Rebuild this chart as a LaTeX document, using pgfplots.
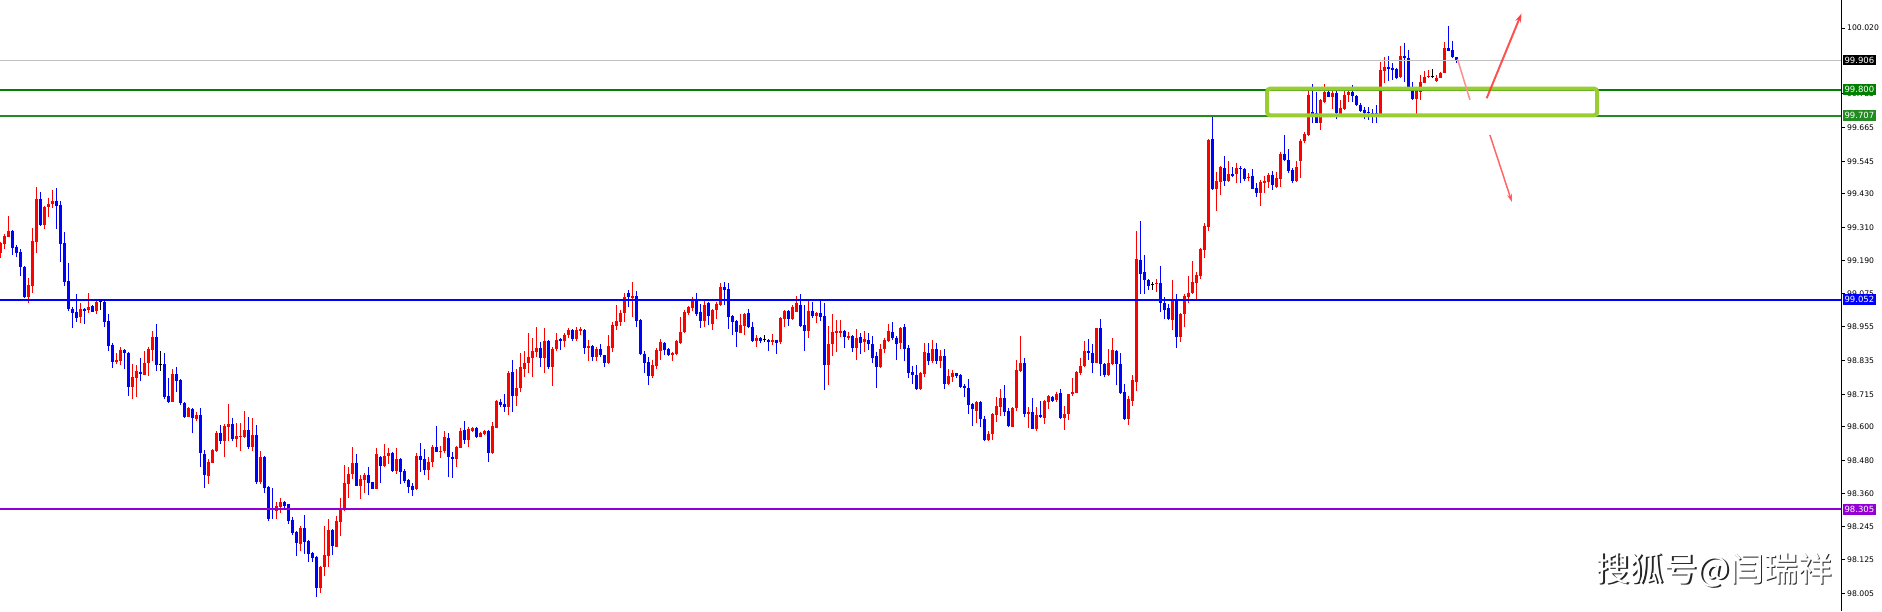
\documentclass[border=0pt]{standalone}
\usepackage{fontspec}
\usepackage{pgfplots}
\usepackage{pgfplotstable}
\pgfplotsset{compat=1.18}
\usetikzlibrary{arrows.meta}
\newfontfamily\dejavu{DejaVu Sans}
\newfontfamily\cjk{Noto Sans CJK SC}
\definecolor{upc}{RGB}{255,0,0}
\definecolor{dnc}{RGB}{0,0,255}
\definecolor{lvgreen}{RGB}{0,128,0}
\definecolor{lvgreenb}{RGB}{34,139,34}
\definecolor{lvpurple}{RGB}{148,0,211}
\definecolor{boxgreen}{RGB}{154,205,50}
\definecolor{bidgray}{RGB}{192,192,192}

% i open high low close
\pgfplotstableread{
i o h l c
0 99.220 99.259 99.200 99.253
1 99.251 99.286 99.234 99.279
2 99.277 99.350 99.274 99.297
3 99.298 99.300 99.211 99.237
4 99.240 99.247 99.203 99.220
5 99.222 99.233 99.138 99.168
6 99.170 99.172 99.059 99.063
7 99.063 99.129 99.039 99.105
8 99.102 99.308 99.077 99.261
9 99.259 99.454 99.220 99.410
10 99.410 99.436 99.315 99.318
11 99.319 99.386 99.304 99.382
12 99.381 99.416 99.348 99.393
13 99.393 99.443 99.378 99.404
14 99.404 99.450 99.305 99.387
15 99.390 99.404 99.188 99.252
16 99.254 99.293 99.102 99.116
17 99.119 99.183 99.013 99.019
18 99.019 99.027 98.952 99.006
19 99.008 99.072 98.974 98.988
20 98.992 99.039 98.970 99.019
21 99.019 99.022 98.967 99.013
22 99.017 99.076 99.004 99.026
23 99.030 99.032 99.007 99.009
24 99.011 99.046 99.002 99.044
25 99.045 99.049 99.017 99.045
26 99.044 99.049 98.954 98.974
27 98.976 99.002 98.870 98.888
28 98.891 98.899 98.810 98.831
29 98.831 98.862 98.822 98.837
30 98.835 98.882 98.819 98.873
31 98.873 98.876 98.806 98.861
32 98.862 98.865 98.709 98.742
33 98.742 98.824 98.699 98.776
34 98.773 98.819 98.707 98.799
35 98.795 98.844 98.764 98.789
36 98.784 98.869 98.783 98.828
37 98.826 98.885 98.781 98.876
38 98.874 98.941 98.835 98.919
39 98.919 98.967 98.799 98.821
40 98.822 98.869 98.799 98.822
41 98.823 98.862 98.697 98.707
42 98.709 98.774 98.685 98.689
43 98.689 98.805 98.688 98.787
44 98.787 98.812 98.722 98.764
45 98.766 98.769 98.677 98.685
46 98.685 98.688 98.632 98.635
47 98.635 98.670 98.634 98.667
48 98.663 98.667 98.578 98.632
49 98.627 98.652 98.620 98.641
50 98.641 98.665 98.457 98.505
51 98.502 98.517 98.382 98.428
52 98.425 98.484 98.397 98.474
53 98.471 98.520 98.469 98.517
54 98.513 98.584 98.510 98.578
55 98.577 98.606 98.538 98.550
56 98.550 98.608 98.493 98.602
57 98.600 98.681 98.550 98.609
58 98.609 98.631 98.550 98.555
59 98.557 98.614 98.528 98.567
60 98.564 98.612 98.514 98.568
61 98.563 98.656 98.558 98.588
62 98.588 98.635 98.519 98.526
63 98.527 98.631 98.514 98.570
64 98.570 98.606 98.396 98.403
65 98.403 98.513 98.396 98.493
66 98.493 98.495 98.362 98.382
67 98.386 98.388 98.264 98.270
68 98.307 98.382 98.270 98.303
69 98.300 98.333 98.270 98.317
70 98.314 98.345 98.293 98.333
71 98.333 98.335 98.305 98.317
72 98.323 98.325 98.253 98.264
73 98.267 98.279 98.214 98.222
74 98.225 98.228 98.139 98.186
75 98.182 98.246 98.157 98.238
76 98.238 98.285 98.146 98.190
77 98.194 98.197 98.119 98.146
78 98.149 98.153 98.119 98.132
79 98.137 98.139 97.993 98.026
80 98.026 98.103 98.006 98.100
81 98.099 98.246 98.068 98.143
82 98.139 98.270 98.101 98.232
83 98.232 98.235 98.143 98.175
84 98.172 98.281 98.170 98.264
85 98.261 98.347 98.210 98.309
86 98.303 98.463 98.300 98.398
87 98.396 98.455 98.347 98.431
88 98.431 98.528 98.413 98.471
89 98.469 98.502 98.388 98.390
90 98.390 98.428 98.342 98.412
91 98.410 98.434 98.362 98.428
92 98.428 98.457 98.356 98.400
93 98.402 98.404 98.376 98.378
94 98.378 98.525 98.376 98.502
95 98.493 98.495 98.398 98.461
96 98.461 98.537 98.457 98.496
97 98.495 98.525 98.466 98.505
98 98.507 98.510 98.439 98.443
99 98.443 98.525 98.431 98.485
100 98.485 98.487 98.396 98.439
101 98.442 98.448 98.398 98.407
102 98.410 98.412 98.362 98.386
103 98.388 98.398 98.353 98.374
104 98.377 98.507 98.374 98.495
105 98.495 98.541 98.439 98.481
106 98.485 98.519 98.428 98.445
107 98.445 98.493 98.410 98.473
108 98.473 98.533 98.457 98.528
109 98.528 98.602 98.508 98.511
110 98.511 98.531 98.488 98.513
111 98.513 98.584 98.505 98.564
112 98.560 98.576 98.419 98.493
113 98.493 98.509 98.418 98.485
114 98.485 98.531 98.457 98.528
115 98.525 98.594 98.523 98.584
116 98.588 98.620 98.538 98.552
117 98.552 98.600 98.528 98.590
118 98.585 98.600 98.582 98.596
119 98.596 98.599 98.559 98.562
120 98.564 98.582 98.562 98.578
121 98.574 98.588 98.569 98.584
122 98.584 98.588 98.475 98.507
123 98.507 98.615 98.502 98.602
124 98.596 98.695 98.595 98.691
125 98.688 98.699 98.671 98.676
126 98.681 98.715 98.651 98.671
127 98.671 98.798 98.641 98.790
128 98.793 98.837 98.653 98.710
129 98.710 98.805 98.674 98.739
130 98.736 98.863 98.722 98.811
131 98.805 98.869 98.778 98.826
132 98.826 98.935 98.790 98.849
133 98.846 98.915 98.778 98.869
134 98.867 98.954 98.849 98.881
135 98.881 98.902 98.811 98.846
136 98.846 98.950 98.792 98.906
137 98.906 98.909 98.804 98.813
138 98.813 98.885 98.746 98.876
139 98.875 98.932 98.870 98.909
140 98.911 98.915 98.873 98.904
141 98.906 98.932 98.885 98.926
142 98.926 98.950 98.915 98.944
143 98.944 98.947 98.906 98.911
144 98.911 98.956 98.906 98.944
145 98.942 98.954 98.926 98.948
146 98.944 98.947 98.859 98.881
147 98.881 98.909 98.835 98.887
148 98.887 98.890 98.835 98.849
149 98.849 98.885 98.834 98.875
150 98.875 98.893 98.849 98.854
151 98.854 98.856 98.811 98.828
152 98.828 98.926 98.823 98.887
153 98.881 98.974 98.865 98.962
154 98.960 99.033 98.944 98.976
155 98.974 99.015 98.958 99.006
156 99.004 99.075 98.974 99.061
157 99.077 99.087 99.027 99.061
158 99.057 99.115 98.992 99.065
159 99.065 99.084 98.956 98.977
160 98.980 98.982 98.855 98.859
161 98.859 98.869 98.792 98.828
162 98.830 98.847 98.748 98.780
163 98.780 98.837 98.774 98.819
164 98.816 98.879 98.804 98.873
165 98.870 98.911 98.837 98.901
166 98.899 98.902 98.855 98.873
167 98.876 98.879 98.852 98.855
168 98.856 98.867 98.834 98.861
169 98.859 98.909 98.855 98.905
170 98.899 98.992 98.893 98.938
171 98.936 99.015 98.932 99.008
172 99.004 99.030 98.998 99.027
173 99.024 99.063 99.013 99.054
174 99.054 99.077 98.995 99.001
175 99.009 99.036 98.950 98.977
176 98.977 99.051 98.954 99.033
177 99.039 99.045 98.962 98.995
178 98.966 99.018 98.944 99.015
179 99.015 99.045 98.982 99.037
180 99.033 99.112 99.030 99.096
181 99.096 99.115 99.033 99.087
182 99.090 99.110 98.948 98.992
183 98.994 98.997 98.926 98.974
184 98.977 98.980 98.885 98.936
185 98.935 99.001 98.932 98.962
186 98.960 99.004 98.926 99.001
187 99.004 99.019 98.950 98.954
188 98.956 98.974 98.902 98.906
189 98.906 98.926 98.885 98.915
190 98.915 98.918 98.897 98.906
191 98.909 98.926 98.902 98.909
192 98.909 98.911 98.870 98.902
193 98.902 98.929 98.891 98.909
194 98.909 98.910 98.859 98.899
195 98.902 98.989 98.894 98.986
196 98.983 99.015 98.956 99.012
197 99.012 99.015 98.958 98.983
198 98.982 99.033 98.980 99.025
199 99.009 99.065 99.007 99.040
200 99.033 99.072 98.956 98.960
201 98.962 99.033 98.870 98.942
202 98.942 99.049 98.917 99.012
203 99.012 99.044 98.986 98.995
204 98.995 99.009 98.970 99.004
205 99.004 99.051 98.977 98.992
206 98.994 99.041 98.730 98.821
207 98.821 98.958 98.749 98.894
208 98.894 99.001 98.852 98.937
209 98.935 98.980 98.867 98.941
210 98.935 98.980 98.918 98.941
211 98.941 98.944 98.881 98.918
212 98.916 98.936 98.909 98.923
213 98.923 98.926 98.867 98.881
214 98.879 98.948 98.837 98.917
215 98.919 98.935 98.858 98.899
216 98.900 98.940 98.867 98.912
217 98.909 98.932 98.873 98.894
218 98.894 98.923 98.826 98.846
219 98.852 98.867 98.739 98.813
220 98.811 98.893 98.808 98.876
221 98.876 98.917 98.861 98.909
222 98.906 98.966 98.900 98.942
223 98.937 98.973 98.909 98.915
224 98.917 98.923 98.837 98.894
225 98.897 98.954 98.876 98.952
226 98.954 98.964 98.834 98.876
227 98.879 98.891 98.774 98.792
228 98.795 98.816 98.752 98.784
229 98.784 98.819 98.730 98.733
230 98.733 98.796 98.730 98.790
231 98.787 98.899 98.778 98.866
232 98.861 98.897 98.819 98.834
233 98.834 98.909 98.828 98.876
234 98.876 98.899 98.823 98.834
235 98.834 98.873 98.810 98.852
236 98.852 98.876 98.733 98.752
237 98.752 98.804 98.748 98.780
238 98.778 98.802 98.760 98.792
239 98.790 98.792 98.772 98.779
240 98.783 98.786 98.739 98.742
241 98.746 98.751 98.704 98.736
242 98.739 98.770 98.645 98.677
243 98.681 98.683 98.603 98.662
244 98.657 98.691 98.614 98.688
245 98.688 98.690 98.598 98.627
246 98.627 98.638 98.549 98.552
247 98.552 98.585 98.549 98.574
248 98.574 98.650 98.552 98.645
249 98.641 98.707 98.617 98.673
250 98.671 98.733 98.638 98.703
251 98.703 98.748 98.638 98.653
252 98.656 98.665 98.598 98.602
253 98.600 98.669 98.599 98.665
254 98.665 98.837 98.657 98.802
255 98.799 98.923 98.796 98.828
256 98.828 98.843 98.635 98.645
257 98.645 98.669 98.596 98.652
258 98.652 98.703 98.592 98.593
259 98.593 98.669 98.585 98.640
260 98.641 98.691 98.630 98.633
261 98.630 98.695 98.609 98.691
262 98.689 98.713 98.662 98.709
263 98.707 98.709 98.689 98.691
264 98.695 98.725 98.689 98.715
265 98.719 98.733 98.628 98.630
266 98.630 98.673 98.588 98.645
267 98.645 98.717 98.624 98.715
268 98.715 98.772 98.709 98.723
269 98.721 98.798 98.719 98.796
270 98.792 98.843 98.784 98.816
271 98.816 98.905 98.814 98.869
272 98.869 98.911 98.837 98.861
273 98.863 98.893 98.790 98.828
274 98.828 98.951 98.826 98.950
275 98.950 98.982 98.780 98.822
276 98.823 98.826 98.776 98.784
277 98.784 98.876 98.780 98.826
278 98.822 98.915 98.819 98.873
279 98.870 98.873 98.748 98.823
280 98.823 98.861 98.716 98.721
281 98.723 98.752 98.624 98.626
282 98.626 98.709 98.606 98.698
283 98.692 98.784 98.674 98.766
284 98.760 99.297 98.728 99.197
285 99.194 99.332 99.071 99.144
286 99.150 99.211 99.071 99.122
287 99.122 99.125 99.087 99.102
288 99.108 99.116 99.087 99.108
289 99.107 99.126 99.079 99.113
290 99.113 99.172 99.009 99.041
291 99.041 99.061 98.982 99.015
292 99.022 99.037 98.980 98.983
293 98.980 99.122 98.944 99.051
294 99.051 99.072 98.881 98.920
295 98.920 99.004 98.902 99.001
296 99.001 99.072 98.956 99.065
297 99.063 99.137 99.041 99.077
298 99.075 99.190 99.071 99.116
299 99.113 99.152 99.054 99.140
300 99.137 99.237 99.125 99.233
301 99.229 99.324 99.200 99.315
302 99.310 99.624 99.298 99.621
303 99.624 99.704 99.443 99.445
304 99.445 99.508 99.369 99.475
305 99.472 99.528 99.425 99.524
306 99.522 99.564 99.457 99.476
307 99.476 99.546 99.472 99.499
308 99.500 99.524 99.490 99.494
309 99.499 99.540 99.469 99.520
310 99.522 99.528 99.467 99.517
311 99.518 99.520 99.476 99.481
312 99.487 99.502 99.475 99.490
313 99.493 99.517 99.445 99.448
314 99.451 99.467 99.419 99.433
315 99.433 99.479 99.386 99.472
316 99.469 99.493 99.431 99.476
317 99.472 99.505 99.449 99.496
318 99.496 99.511 99.443 99.461
319 99.452 99.507 99.449 99.485
320 99.482 99.579 99.452 99.571
321 99.571 99.639 99.546 99.550
322 99.550 99.589 99.502 99.511
323 99.514 99.520 99.469 99.475
324 99.476 99.546 99.472 99.524
325 99.546 99.624 99.487 99.619
326 99.617 99.651 99.609 99.641
327 99.639 99.805 99.637 99.781
328 99.720 99.820 99.681 99.714
329 99.718 99.793 99.681 99.683
330 99.683 99.767 99.657 99.764
331 99.758 99.820 99.754 99.793
332 99.793 99.805 99.774 99.775
333 99.775 99.796 99.730 99.790
334 99.787 99.799 99.695 99.716
335 99.714 99.764 99.710 99.734
336 99.730 99.799 99.728 99.781
337 99.781 99.799 99.758 99.793
338 99.793 99.817 99.758 99.778
339 99.778 99.781 99.742 99.746
340 99.746 99.752 99.722 99.725
341 99.728 99.738 99.695 99.718
342 99.722 99.738 99.692 99.716
343 99.718 99.730 99.681 99.714
344 99.717 99.746 99.681 99.710
345 99.714 99.900 99.710 99.870
346 99.868 99.918 99.823 99.882
347 99.882 99.920 99.831 99.874
348 99.879 99.894 99.835 99.870
349 99.873 99.877 99.837 99.843
350 99.844 99.956 99.841 99.920
351 99.920 99.968 99.829 99.912
352 99.914 99.942 99.806 99.811
353 99.811 99.829 99.764 99.766
354 99.767 99.805 99.710 99.796
355 99.793 99.853 99.764 99.829
356 99.825 99.868 99.823 99.847
357 99.844 99.870 99.841 99.849
358 99.847 99.874 99.843 99.847
359 99.832 99.853 99.829 99.843
360 99.843 99.864 99.841 99.861
361 99.861 99.969 99.859 99.948
362 99.948 100.027 99.938 99.939
363 99.942 99.975 99.912 99.916
364 99.916 99.918 99.896 99.906
}\candles

\tikzset{lvlbox/.style={anchor=west, xshift=1.7pt, inner xsep=1.6pt, inner ysep=2.4pt,
  text height=6.1pt, text depth=0pt, text=white, font=\dejavu\fontsize{8.5}{8.5}\selectfont}}
% error bars only, the marks themselves are empty text nodes
\pgfplotsset{candle/.style={only marks, mark=text, text mark={},
  error bars/.cd, y dir=minus, y explicit, error mark=none}}

\begin{document}
\begin{tikzpicture}
\begin{axis}[
  at={(0pt,0pt)}, anchor=south west,
  scale only axis, width=1841pt, height=611pt,
  xmin=-0.0825, xmax=460.17,
  ymin=97.9431, ymax=100.1198,
  axis x line=none, axis y line=right,
  y axis line style={-, black, line width=1pt},
  ytick={98.005,98.125,98.245,98.360,98.480,98.600,98.715,98.835,98.955,99.075,99.190,99.310,99.430,99.545,99.665,99.785,100.020},
  yticklabels={98.005,98.125,98.245,98.360,98.480,98.600,98.715,98.835,98.955,99.075,99.190,99.310,99.430,99.545,99.665,99.785,100.020},
  tick align=outside, major tick length=4pt,
  ytick style={black, line width=1pt},
  yticklabel style={font=\dejavu\fontsize{7.7}{7.7}\selectfont, text=black, inner xsep=2pt},
  clip=false,
]
% wicks
\addplot[restrict expr to domain={\thisrow{c}-\thisrow{o}}{0.0005:10},
  candle, error bar style={line width=1pt, upc}]
  table[x=i, y=h, y error minus expr=\thisrow{h}-\thisrow{l}] {\candles};
\addplot[restrict expr to domain={\thisrow{c}-\thisrow{o}}{-10:-0.0005},
  candle, error bar style={line width=1pt, dnc}]
  table[x=i, y=h, y error minus expr=\thisrow{h}-\thisrow{l}] {\candles};
\addplot[restrict expr to domain={\thisrow{c}-\thisrow{o}}{-0.0004:0.0004},
  candle, error bar style={line width=1pt, black}]
  table[x=i, y=h, y error minus expr=\thisrow{h}-\thisrow{l}] {\candles};
% bodies
\addplot[restrict expr to domain={\thisrow{c}-\thisrow{o}}{0.0005:10},
  candle, error bar style={line width=3pt, upc}]
  table[x=i, y=c, y error minus expr=\thisrow{c}-\thisrow{o}] {\candles};
\addplot[restrict expr to domain={\thisrow{c}-\thisrow{o}}{-10:-0.0005},
  candle, error bar style={line width=3pt, dnc}]
  table[x=i, y=o, y error minus expr=\thisrow{o}-\thisrow{c}] {\candles};
\addplot[only marks, mark=-, mark size=1.5pt, mark options={line width=1pt, black},
  restrict expr to domain={\thisrow{c}-\thisrow{o}}{-0.0004:0.0004}]
  table[x=i, y=c] {\candles};

% price levels
\addplot[bidgray, line width=1pt] coordinates {(-0.0825,99.906) (460.17,99.906)};
\addplot[lvgreen, line width=2pt] coordinates {(-0.0825,99.800) (460.17,99.800)};
\addplot[lvgreenb, line width=2pt] coordinates {(-0.0825,99.707) (460.17,99.707)};
\addplot[dnc, line width=2pt] coordinates {(-0.0825,99.052) (460.17,99.052)};
\addplot[lvpurple, line width=2pt] coordinates {(-0.0825,98.305) (460.17,98.305)};

% zone and arrows
\draw[boxgreen, line width=4pt, rounded corners=3pt] (axis cs:316.7,99.709) rectangle (axis cs:399.2,99.804);
\draw[red!45, line width=1.5pt] (axis cs:364.3,99.909) -- (axis cs:367.4,99.764);
\draw[red!80, opacity=0.85, line width=2pt, -{Stealth[length=9pt,width=6pt]}] (axis cs:371.6,99.770) -- (axis cs:380.3,100.072);
\draw[red!70, opacity=0.85, line width=1.5pt, -{Stealth[length=8pt,width=5pt]}] (axis cs:372.4,99.639) -- (axis cs:377.9,99.400);

\coordinate (b1) at (axis cs:460.17,99.906);
\coordinate (b2) at (axis cs:460.17,99.800);
\coordinate (b3) at (axis cs:460.17,99.707);
\coordinate (b4) at (axis cs:460.17,99.052);
\coordinate (b5) at (axis cs:460.17,98.305);
\end{axis}

\node[lvlbox, fill=black] at (b1) {99.906};
\node[lvlbox, fill=lvgreen] at (b2) {99.800};
\node[lvlbox, fill=lvgreenb] at (b3) {99.707};
\node[lvlbox, fill=dnc] at (b4) {99.052};
\node[lvlbox, fill=lvpurple] at (b5) {98.305};

\node[font=\cjk\fontsize{34}{34}\selectfont, text=black!85] at (1715.3pt,39.7pt) {搜狐号@闫瑞祥};
\node[font=\cjk\fontsize{34}{34}\selectfont, text=white] at (1714pt,41pt) {搜狐号@闫瑞祥};

\pgfresetboundingbox
\path[use as bounding box] (0pt,0pt) rectangle (1882pt,611pt);
\end{tikzpicture}
\end{document}
